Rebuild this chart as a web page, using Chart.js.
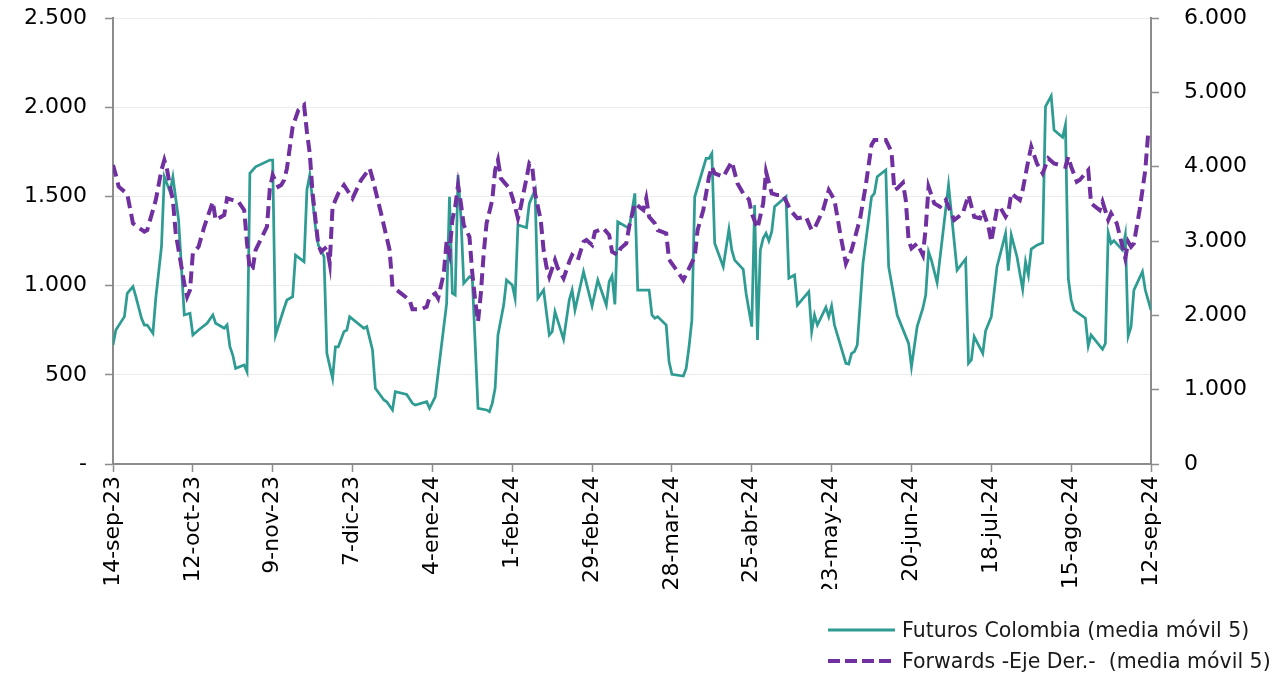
<!DOCTYPE html>
<html lang="es">
<head>
<meta charset="utf-8">
<title>Futuros Colombia y Forwards (media móvil 5)</title>
<script src="https://cdn.jsdelivr.net/npm/chart.js@4.4.1/dist/chart.umd.min.js"></script>
<style>
  html, body { margin: 0; padding: 0; background: #fff; }
  #wrap { position: relative; width: 1279px; height: 675px; }
  #leyenda {
    position: absolute; left: 828px; top: 614px;
    font-family: "DejaVu Sans", Verdana, sans-serif; font-size: 20.5px; color: #1a1a1a;
  }
  .item { display: flex; align-items: center; height: 31px; white-space: pre; }
  .item svg { margin-right: 7px; }
</style>
</head>
<body>
<div id="wrap">
  <canvas id="grafico" width="1279" height="675"></canvas>
  <div id="leyenda">
    <div class="item"><svg width="67" height="6"><line x1="0" y1="3" x2="67" y2="3" stroke="#2E9C92" stroke-width="3"/></svg>Futuros Colombia (media móvil 5)</div>
    <div class="item"><svg width="67" height="6"><line x1="0" y1="3" x2="67" y2="3" stroke="#7030A0" stroke-width="4" stroke-dasharray="12 5"/></svg>Forwards -Eje Der.-  (media móvil 5)</div>
  </div>
</div>
<script>
// dias contados desde el 14-sep-23
var inicio = new Date(2023, 8, 14);
var meses = ['ene', 'feb', 'mar', 'abr', 'may', 'jun', 'jul', 'ago', 'sep', 'oct', 'nov', 'dic'];

// Futuros Colombia (eje izq.)
var futDias = [0, 1, 4, 5, 7, 8, 10, 11, 12, 14, 15, 17, 18, 20, 21, 23, 25, 27, 28, 30,
  33, 35, 36, 39, 40, 41, 42, 43, 46, 47, 48, 50, 55, 56, 57, 60, 61, 63, 64, 67,
  68, 69, 71, 72, 74, 75, 77, 78, 79, 81, 82, 83, 88, 89, 91, 92, 95, 96, 98, 99,
  103, 105, 106, 110, 111, 113, 117, 118, 119, 120, 121, 122, 123, 125, 126, 128, 131, 132, 133, 134,
  135, 136, 137, 138, 140, 141, 142, 144, 145, 146, 148, 149, 151, 153, 154, 155, 158, 160, 161, 162,
  165, 168, 170, 173, 174, 175, 176, 177, 181, 183, 184, 188, 189, 190, 191, 194, 195, 196, 200, 201,
  202, 203, 204, 208, 209, 210, 211, 214, 216, 217, 218, 221, 222, 224, 225, 226, 227, 228, 229, 230,
  231, 232, 236, 237, 239, 240, 244, 245, 246, 247, 250, 251, 252, 253, 257, 258, 259, 260, 261, 263,
  266, 267, 268, 271, 272, 275, 279, 280, 282, 284, 285, 286, 287, 289, 293, 296, 299, 300, 301, 302,
  305, 306, 308, 310, 313, 314, 315, 317, 319, 320, 321, 322, 324, 326, 327, 329, 330, 333, 334, 335,
  336, 337, 341, 342, 343, 347, 348, 349, 350, 351, 354, 355, 356, 357, 358, 361, 362, 364];
var futValores = [667, 751, 826, 957, 994, 940, 817, 779, 779, 733, 929, 1218, 1610, 1526, 1610, 1368, 835, 845, 723, 751,
  789, 835, 789, 761, 779, 657, 611, 536, 555, 517, 1629, 1666, 1704, 1704, 723, 873, 919, 938, 1171, 1134,
  1536, 1620, 1330, 1227, 1162, 620, 480, 657, 657, 742, 751, 826, 761, 770, 639, 424, 359, 349, 303, 405,
  390, 340, 331, 349, 312, 377, 900, 1498, 957, 947, 1620, 1386, 1013, 1050, 1041, 312, 303, 293, 340, 424,
  723, 807, 891, 1031, 1003, 929, 1340, 1330, 1325, 1461, 1536, 929, 975, 723, 742, 854, 699, 919, 975, 863,
  1078, 886, 1031, 891, 1022, 1054, 895, 1358, 1321, 1517, 975, 975, 835, 817, 826, 779, 573, 503, 493, 536,
  657, 807, 1498, 1713, 1713, 1741, 1237, 1106, 1315, 1199, 1143, 1091, 957, 770, 1452, 695, 1199, 1265, 1293, 1250,
  1302, 1442, 1498, 1041, 1059, 891, 966, 742, 835, 779, 878, 826, 886, 779, 564, 560, 620, 630, 667, 1125,
  1498, 1517, 1610, 1648, 1106, 835, 676, 545, 770, 873, 947, 1190, 1143, 1016, 1564, 1087, 1149, 564, 583, 714,
  620, 747, 826, 1106, 1293, 1084, 1284, 1162, 979, 1134, 1059, 1205, 1227, 1240, 2003, 2063, 1872, 1831, 1901, 1041,
  919, 863, 817, 661, 723, 643, 676, 1296, 1237, 1252, 1199, 1284, 717, 770, 975, 1078, 975, 863];

// Forwards (eje der.)
var fwdDias = [0, 1, 2, 5, 7, 11, 12, 15, 17, 18, 19, 20, 21, 22, 25, 26, 27, 28, 30, 32,
  35, 36, 39, 40, 42, 44, 46, 47, 48, 49, 50, 54, 55, 56, 58, 59, 60, 61, 63, 65,
  67, 68, 69, 70, 72, 73, 75, 76, 77, 79, 81, 84, 87, 90, 91, 94, 97, 98, 101, 104,
  105, 108, 110, 111, 113, 114, 116, 117, 118, 119, 120, 121, 122, 123, 125, 126, 127, 128, 129, 130,
  131, 133, 134, 135, 136, 139, 140, 141, 142, 143, 145, 146, 147, 148, 150, 151, 152, 153, 155, 156,
  158, 160, 161, 163, 165, 166, 168, 169, 172, 174, 175, 177, 178, 180, 181, 183, 186, 187, 188, 190,
  191, 194, 195, 198, 200, 202, 204, 205, 207, 208, 209, 210, 211, 214, 217, 219, 221, 223, 224, 226,
  228, 229, 231, 233, 235, 237, 238, 240, 243, 245, 246, 249, 251, 253, 255, 257, 259, 262, 264, 266,
  267, 271, 273, 274, 275, 277, 278, 279, 280, 282, 284, 285, 286, 288, 290, 292, 293, 295, 298, 300,
  302, 304, 305, 307, 308, 310, 311, 313, 314, 315, 318, 319, 321, 322, 324, 326, 328, 330, 334, 335,
  336, 338, 339, 341, 342, 343, 346, 347, 349, 350, 352, 355, 356, 357, 358, 360, 362, 363, 364];
var fwdValores = [4022, 3887, 3730, 3632, 3237, 3125, 3147, 3551, 3954, 4089, 3954, 3730, 3551, 3103, 2430, 2250, 2340, 2834, 2923, 3192,
  3528, 3282, 3349, 3574, 3551, 3528, 3416, 2968, 2609, 2632, 2878, 3192, 3708, 3887, 3730, 3753, 3820, 3977, 4537, 4761,
  4829, 4469, 4179, 3641, 2946, 2855, 2923, 2699, 3461, 3641, 3753, 3574, 3820, 3977, 3843, 3372, 2878, 2385, 2296, 2206,
  2081, 2081, 2116, 2242, 2296, 2229, 2565, 3000, 2834, 3282, 3461, 3753, 3506, 3215, 3057, 2565, 2206, 1914, 2296, 2834,
  3237, 3551, 3954, 4089, 3843, 3708, 3595, 3461, 3305, 3461, 3843, 4044, 3999, 3641, 3282, 2878, 2654, 2519, 2744, 2632,
  2498, 2721, 2811, 2744, 2990, 3013, 2946, 3125, 3170, 3080, 2855, 2811, 2901, 2968, 3192, 3506, 3416, 3574, 3326, 3237,
  3147, 3103, 2750, 2587, 2475, 2632, 2788, 3147, 3416, 3641, 3864, 3999, 3909, 3864, 4066, 3775, 3641, 3560, 3372, 3170,
  3506, 3931, 3641, 3618, 3618, 3461, 3394, 3305, 3326, 3147, 3170, 3416, 3685, 3551, 3103, 2699, 2878, 3305, 3753, 4291,
  4358, 4358, 4201, 3685, 3708, 3784, 3551, 3013, 2901, 2968, 2811, 3170, 3730, 3506, 3461, 3551, 3461, 3282, 3372, 3618,
  3326, 3305, 3416, 3192, 2990, 3439, 3461, 3326, 3394, 3641, 3551, 3685, 4089, 4268, 4044, 3909, 4111, 4044, 3999, 4134,
  3999, 3797, 3820, 3909, 3954, 3506, 3416, 3528, 3282, 3372, 3237, 2767, 2990, 2923, 2968, 3416, 3954, 4448, 4460];

function miles(v) {
  return String(v).replace(/\B(?=(\d{3})+(?!\d))/g, '.');
}
function fecha(dias) {
  var d = new Date(inicio.getTime());
  d.setDate(d.getDate() + dias);
  return d.getDate() + '-' + meses[d.getMonth()] + '-' + String(d.getFullYear()).slice(2);
}

var gris = '#8c8c8c';
var fuenteEje = { family: 'DejaVu Sans', size: 22 };

// ancho fijo de los ejes y sin relleno extra arriba/abajo
function anchoEje(w) {
  return function (s) {
    s.width = w;
    s.paddingTop = 0;
    s.paddingBottom = 0;
  };
}

var ctx = document.getElementById('grafico').getContext('2d');
var grafico = new Chart(ctx, {
  type: 'line',
  data: {
    datasets: [{
      label: 'Futuros Colombia (media móvil 5)',
      data: futDias.map(function (d, i) { return { x: d, y: futValores[i] }; }),
      borderColor: '#2E9C92',
      borderWidth: 2.75,
      pointRadius: 0,
      tension: 0,
      yAxisID: 'y',
      order: 2
    }, {
      label: 'Forwards -Eje Der.-  (media móvil 5)',
      data: fwdDias.map(function (d, i) { return { x: d, y: fwdValores[i] }; }),
      borderColor: '#7030A0',
      borderWidth: 4,
      borderDash: [12, 6],
      pointRadius: 0,
      tension: 0,
      yAxisID: 'y2',
      order: 1
    }]
  },
  options: {
    responsive: false,
    animation: false,
    devicePixelRatio: 1,
    layout: { padding: { top: 18, right: 0, bottom: 86, left: 0 } },
    plugins: { legend: { display: false }, tooltip: { enabled: false } },
    scales: {
      x: {
        type: 'linear',
        min: 0,
        max: 364,
        afterFit: function (s) { s.height = 125; },
        grid: { drawOnChartArea: false, tickLength: 8, tickColor: gris, tickWidth: 1.5 },
        border: { color: gris, width: 2 },
        ticks: {
          stepSize: 28,
          autoSkip: false,
          maxRotation: 90,
          minRotation: 90,
          padding: 4,
          color: '#000',
          font: fuenteEje,
          callback: function (v) { return fecha(v); }
        }
      },
      y: {
        position: 'left',
        min: 0,
        max: 2500,
        afterFit: anchoEje(113),
        grid: { color: '#ececec', lineWidth: 1, tickLength: 8, tickColor: gris, tickWidth: 1.5 },
        border: { color: gris, width: 2 },
        ticks: {
          stepSize: 500,
          padding: 18,
          color: '#000',
          font: fuenteEje,
          callback: function (v) { return v === 0 ? '-' : miles(v); }
        }
      },
      y2: {
        position: 'right',
        min: 0,
        max: 6000,
        afterFit: anchoEje(128),
        grid: { drawOnChartArea: false, tickLength: 8, tickColor: gris, tickWidth: 1.5 },
        border: { color: gris, width: 2 },
        ticks: {
          stepSize: 1000,
          padding: 25,
          color: '#000',
          font: fuenteEje,
          callback: function (v) { return miles(v); }
        }
      }
    }
  }
});
</script>
</body>
</html>
